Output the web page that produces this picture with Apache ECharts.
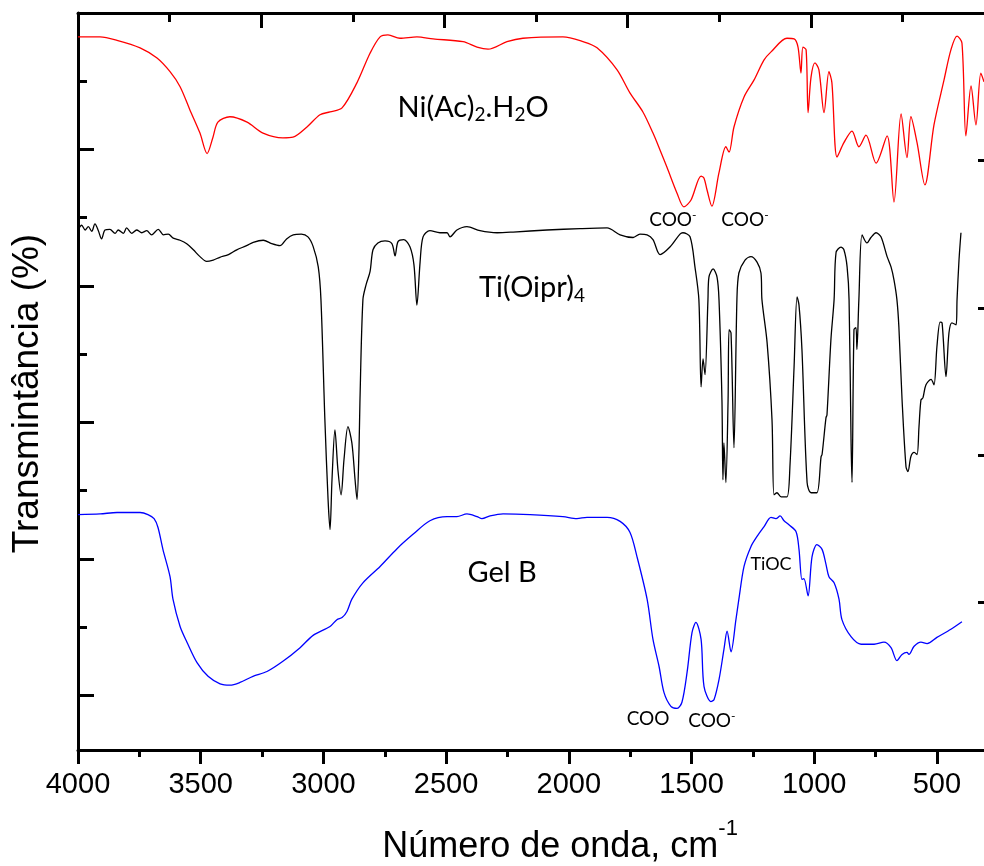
<!DOCTYPE html>
<html>
<head>
<meta charset="utf-8">
<title>FTIR - Ni(Ac)2.H2O, Ti(Oipr)4, Gel B</title>
<script src="https://cdn.jsdelivr.net/npm/echarts@6/dist/echarts.min.js"></script>
<style>
  html, body { margin: 0; padding: 0; background: #fff; }
  #chart { width: 984px; height: 866px; }
</style>
</head>
<body>
<div id="chart"></div>
<script>
// Ni(Ac)2.H2O (vermelho)
const niWave = [4000, 3910, 3841, 3747, 3678, 3625, 3584, 3544, 3503, 3474, 3450, 3430, 3381, 3311, 3246, 3165, 3124, 3067, 3014, 2973,
  2924, 2863, 2810, 2769, 2737, 2688, 2619, 2553, 2431, 2374, 2329, 2252, 2187, 2024, 1942, 1885, 1804, 1751, 1698, 1657,
  1628, 1600, 1559, 1531, 1502, 1461, 1449, 1437, 1417, 1388, 1360, 1347, 1327, 1286, 1245, 1205, 1176, 1111, 1082, 1066,
  1054, 1046, 1033, 1025, 1013, 997, 981, 960, 940, 928, 907, 879, 846, 818, 789, 748, 703, 675, 646, 622,
  606, 581, 549, 512, 471, 443, 418, 398, 382, 361, 341, 321, 308]
const niTrans = [96.5, 96.5, 96.0, 94.9, 93.4, 91.4, 89.2, 85.8, 82.4, 79.4, 81.8, 84.0, 84.8, 84.0, 82.4, 81.7, 81.8, 83.3, 85.1, 85.5,
  86.1, 89.8, 94.1, 96.5, 96.8, 96.3, 96.5, 96.2, 95.8, 95.0, 94.7, 95.8, 96.3, 96.5, 95.8, 94.9, 91.7, 88.3, 85.5, 82.4,
  79.9, 77.4, 73.6, 71.6, 72.6, 76.1, 75.8, 74.1, 71.7, 76.6, 80.4, 79.6, 83.3, 87.7, 90.2, 93.1, 94.3, 96.3, 96.2, 95.0,
  91.2, 95.0, 94.6, 85.4, 90.6, 92.7, 91.7, 85.4, 91.4, 89.8, 78.9, 81.0, 82.7, 80.4, 82.1, 78.0, 82.0, 72.3, 85.2, 78.8,
  84.8, 81.0, 74.8, 83.6, 90.2, 94.6, 96.6, 95.6, 82.0, 89.3, 83.6, 91.2, 89.9]

// Ti(Oipr)4 (preto)
const tiWave = [4000, 3985, 3971, 3958, 3944, 3931, 3917, 3904, 3890, 3870, 3849, 3836, 3815, 3802, 3781, 3761, 3740, 3720, 3700, 3673,
  3652, 3632, 3612, 3584, 3557, 3530, 3503, 3476, 3449, 3422, 3387, 3353, 3313, 3286, 3245, 3211, 3177, 3150, 3123, 3090,
  3063, 3042, 3021, 3010, 2994, 2981, 2973, 2965, 2953, 2941, 2928, 2916, 2900, 2884, 2871, 2863, 2855, 2851, 2839, 2826,
  2810, 2798, 2778, 2749, 2721, 2708, 2696, 2672, 2647, 2631, 2619, 2606, 2594, 2566, 2525, 2496, 2484, 2456, 2415, 2362,
  2292, 2227, 2089, 1954, 1844, 1791, 1738, 1710, 1681, 1657, 1628, 1588, 1547, 1535, 1506, 1486, 1470, 1461, 1453, 1445,
  1433, 1429, 1412, 1396, 1388, 1376, 1372, 1368, 1360, 1351, 1347, 1339, 1327, 1315, 1307, 1282, 1258, 1233, 1217, 1213,
  1192, 1172, 1164, 1152, 1135, 1111, 1099, 1082, 1070, 1062, 1050, 1029, 1013, 989, 972, 968, 952, 948, 932, 919,
  911, 891, 879, 866, 858, 850, 846, 838, 830, 826, 818, 805, 785, 769, 748, 728, 703, 687, 675, 663,
  655, 642, 626, 618, 606, 593, 581, 573, 565, 557, 545, 524, 512, 500, 487, 479, 463, 451, 439, 422,
  418, 410, 402]
const tiTrans = [68.2, 68.9, 68.2, 68.7, 68.0, 69.1, 68.1, 66.9, 68.2, 68.3, 67.7, 68.2, 67.7, 68.5, 67.7, 68.2, 67.8, 68.1, 67.5, 68.3,
  67.5, 67.6, 67.0, 66.7, 66.2, 65.3, 64.3, 63.6, 63.8, 64.2, 64.6, 65.3, 65.9, 66.4, 66.7, 66.2, 65.9, 66.9, 67.5, 67.6,
  67.2, 65.8, 62.8, 58.0, 40.4, 28.7, 24.3, 31.6, 38.9, 33.1, 29.4, 34.6, 39.4, 37.0, 31.6, 28.7, 36.0, 43.3, 58.0, 60.2,
  62.1, 65.3, 66.3, 66.6, 66.2, 64.4, 66.5, 66.8, 65.7, 63.1, 57.2, 63.5, 67.2, 68.1, 67.8, 67.8, 67.2, 68.2, 68.7, 68.1,
  67.8, 67.9, 68.2, 68.4, 68.5, 67.5, 67.1, 67.6, 67.5, 66.8, 64.6, 65.7, 67.6, 67.8, 67.2, 62.8, 58.0, 45.2, 49.3, 47.0,
  58.0, 61.3, 62.5, 61.3, 58.0, 43.3, 31.6, 37.0, 31.2, 43.3, 53.6, 53.1, 36.3, 58.0, 61.9, 63.8, 64.3, 63.5, 61.9, 58.0,
  51.7, 40.4, 29.4, 29.7, 29.1, 29.1, 33.5, 48.2, 58.4, 57.2, 50.7, 31.2, 29.7, 29.7, 35.0, 35.3, 40.7, 41.1, 52.1, 58.0,
  64.9, 65.7, 65.3, 62.8, 58.0, 37.5, 31.2, 53.6, 53.9, 50.7, 58.0, 67.5, 66.3, 67.1, 67.8, 67.2, 64.3, 62.8, 60.9, 58.0,
  54.0, 43.3, 33.5, 32.8, 35.0, 35.6, 35.3, 39.4, 43.3, 43.6, 45.5, 46.3, 45.5, 51.1, 54.7, 54.6, 46.7, 53.1, 54.6, 54.3,
  58.0, 63.8, 67.8]

// Gel B (azul)
const gelWave = [4000, 3910, 3841, 3747, 3715, 3690, 3674, 3654, 3625, 3613, 3584, 3556, 3515, 3470, 3421, 3381, 3340, 3287, 3230, 3165,
  3095, 3042, 2973, 2945, 2924, 2904, 2884, 2839, 2769, 2700, 2635, 2566, 2496, 2456, 2415, 2374, 2354, 2321, 2268, 2158,
  2024, 1967, 1926, 1844, 1791, 1751, 1722, 1681, 1657, 1632, 1612, 1584, 1559, 1539, 1518, 1498, 1482, 1461, 1449, 1421,
  1408, 1388, 1368, 1355, 1339, 1319, 1307, 1286, 1258, 1233, 1205, 1176, 1156, 1139, 1123, 1103, 1074, 1062, 1050, 1042,
  1025, 1009, 989, 968, 952, 940, 919, 899, 887, 850, 809, 756, 716, 687, 663, 642, 622, 614, 593, 565,
  540, 500, 443, 398]
const gelTrans = [26.5, 26.6, 26.8, 26.8, 26.5, 25.9, 24.6, 21.4, 17.4, 14.1, 10.1, 7.8, 4.8, 2.8, 1.7, 1.5, 1.9, 2.8, 3.5, 5.0,
  7.0, 8.8, 10.1, 11.1, 11.4, 12.3, 14.1, 16.5, 18.9, 21.5, 23.6, 25.6, 26.2, 26.2, 26.6, 26.2, 25.9, 26.3, 26.6, 26.5,
  26.2, 25.9, 26.1, 26.1, 25.5, 23.9, 20.3, 14.1, 8.2, 4.2, 0.4, -1.6, -1.9, -1.0, 3.4, 9.2, 10.7, 8.2, 1.3, -0.9,
  -0.6, 2.3, 6.7, 9.4, 6.4, 11.1, 14.1, 18.9, 21.8, 23.3, 24.7, 26.1, 25.9, 26.3, 25.6, 25.0, 24.0, 21.4, 17.0, 17.1,
  14.6, 20.3, 22.1, 21.4, 19.2, 17.4, 16.5, 14.1, 11.1, 8.6, 7.5, 7.5, 7.8, 7.0, 5.1, 6.0, 6.3, 6.0, 7.2, 7.8,
  7.6, 8.5, 9.7, 10.8]

// eixos
const majorWaves = [500, 1000, 1500, 2000, 2500, 3000, 3500, 4000]
const minorWaves = [750, 1250, 1750, 2250, 2750, 3250, 3750]
const majorTrans = [0, 20, 40, 60, 80]
const minorTrans = [10, 30, 50, 70, 90]

// anotações
const noteText = ['{n|Ni(Ac)}{s|2}{n|.H}{s|2}{n|O}', '{n|Ti(Oipr)}{s|4}', '{n|Gel B}', '{c|COO}{p|-}', '{c|COO}{p|-}', '{t|TiOC}', '{c|COO}', '{c|COO}{p|-}']
const noteWave = [2390, 2150, 2272, 1576, 1282, 1176, 1677, 1417]
const noteTrans = [86.1, 59.7, 18.0, 69.7, 69.7, 19.2, -3.5, -3.7]

const axisFont = '"Liberation Sans", Arial, sans-serif'
const noteFont = 'Lato, "Open Sans", sans-serif'

function zip (xs, ys) {
  return xs.map((x, i) => [x, ys[i]])
}

const tickStyle = { color: '#000', width: 3 }
const hidden = { show: false }

const noteRich = {
  n: { fontFamily: noteFont, fontSize: 29, color: '#000', lineHeight: 34 },
  s: { fontFamily: noteFont, fontSize: 19, color: '#000', lineHeight: 22, verticalAlign: 'bottom' },
  c: { fontFamily: noteFont, fontSize: 19, color: '#000', lineHeight: 22 },
  p: { fontFamily: noteFont, fontSize: 12, color: '#000', lineHeight: 14, verticalAlign: 'top' },
  t: { fontFamily: noteFont, fontSize: 18, color: '#000', lineHeight: 22 }
}

const chart = echarts.init(document.getElementById('chart'))

const option = {
  animation: false,
  backgroundColor: '#fff',
  grid: { left: 78, top: 13, right: -2, bottom: 116, outerBoundsMode: 'none' },
  xAxis: [
    {
      type: 'value',
      position: 'bottom',
      inverse: true,
      min: 300,
      max: 4000,
      axisLine: { onZero: false, lineStyle: { color: '#000', width: 3 } },
      axisTick: { inside: false, length: 14, lineStyle: tickStyle, customValues: majorWaves },
      axisLabel: {
        customValues: majorWaves,
        formatter: v => String(v),
        margin: 20,
        fontSize: 29,
        color: '#000',
        fontFamily: axisFont
      },
      splitLine: hidden,
      name: '{t|Número de onda, cm}{sup|-1}',
      nameLocation: 'middle',
      nameGap: 68,
      nameTextStyle: {
        padding: [0, 0, 0, 56],
        rich: {
          t: { fontSize: 36, fontFamily: axisFont, color: '#000', lineHeight: 58 },
          sup: { fontSize: 22, fontFamily: axisFont, color: '#000', lineHeight: 8, verticalAlign: 'top' }
        }
      }
    },
    {
      type: 'value',
      position: 'bottom',
      inverse: true,
      min: 300,
      max: 4000,
      axisLine: { show: false, onZero: false },
      axisTick: { inside: false, length: 7, lineStyle: tickStyle, customValues: minorWaves },
      axisLabel: hidden,
      splitLine: hidden
    },
    {
      type: 'value',
      position: 'top',
      min: 0,
      max: 9.91,
      axisLine: { onZero: false, lineStyle: { color: '#000', width: 3 } },
      axisTick: { inside: true, length: 15, lineStyle: tickStyle, customValues: [2, 4, 6, 8] },
      axisLabel: hidden,
      splitLine: hidden
    },
    {
      type: 'value',
      position: 'top',
      min: 0,
      max: 9.91,
      axisLine: { show: false, onZero: false },
      axisTick: { inside: true, length: 9, lineStyle: tickStyle, customValues: [1, 3, 5, 7, 9] },
      axisLabel: hidden,
      splitLine: hidden
    }
  ],
  yAxis: [
    {
      type: 'value',
      position: 'left',
      min: -8,
      max: 100,
      axisLine: { onZero: false, lineStyle: { color: '#000', width: 3 } },
      axisTick: { inside: true, length: 16, lineStyle: tickStyle, customValues: majorTrans },
      axisLabel: hidden,
      splitLine: hidden,
      name: 'Transmintância (%)',
      nameLocation: 'middle',
      nameGap: 32,
      nameTextStyle: { fontSize: 37, fontFamily: axisFont, color: '#000', padding: [0, 24, 0, 0] }
    },
    {
      type: 'value',
      position: 'left',
      min: -8,
      max: 100,
      axisLine: { show: false, onZero: false },
      axisTick: { inside: true, length: 9, lineStyle: tickStyle, customValues: minorTrans },
      axisLabel: hidden,
      splitLine: hidden
    },
    {
      type: 'value',
      position: 'right',
      min: 0,
      max: 5,
      interval: 1,
      axisLine: { onZero: false, lineStyle: { color: '#000', width: 3 } },
      axisTick: { inside: true, length: 8, lineStyle: tickStyle },
      axisLabel: hidden,
      splitLine: hidden
    }
  ],
  series: [
    {
      name: 'Ni(Ac)2.H2O',
      type: 'line',
      data: zip(niWave, niTrans),
      showSymbol: false,
      smooth: 0.3,
      lineStyle: { color: '#ff0000', width: 1.3 },
      markPoint: {
        symbol: 'circle',
        symbolSize: 0,
        silent: true,
        label: { show: true, position: 'inside', formatter: p => p.name, rich: noteRich },
        data: noteText.map((t, i) => ({ name: t, coord: [noteWave[i], noteTrans[i]] }))
      }
    },
    {
      name: 'Ti(Oipr)4',
      type: 'line',
      data: zip(tiWave, tiTrans),
      showSymbol: false,
      smooth: 0.3,
      lineStyle: { color: '#000000', width: 1.3 }
    },
    {
      name: 'Gel B',
      type: 'line',
      data: zip(gelWave, gelTrans),
      showSymbol: false,
      smooth: 0.3,
      lineStyle: { color: '#0000ff', width: 1.3 }
    }
  ]
}

chart.setOption(option)
</script>
</body>
</html>
